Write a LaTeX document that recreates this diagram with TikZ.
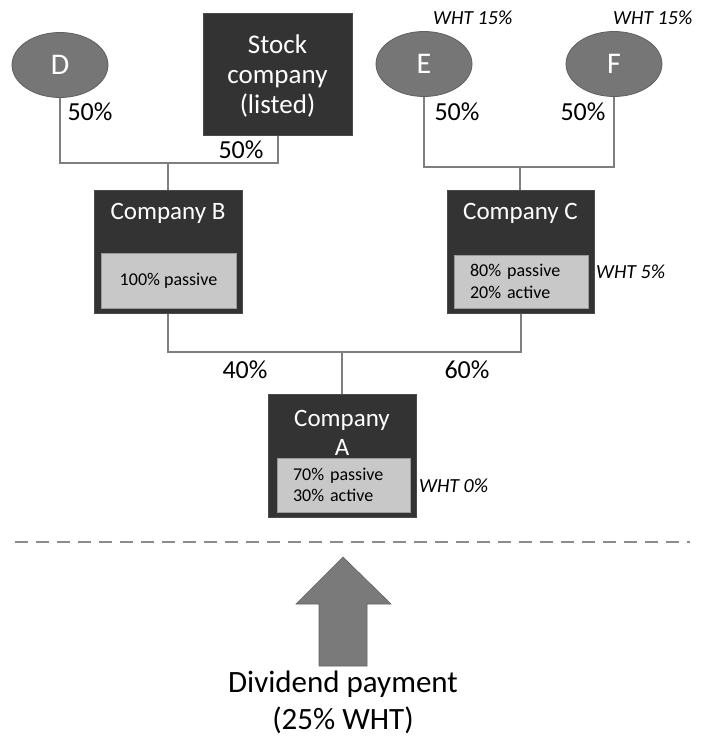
\documentclass[tikz,border=0pt]{standalone}
\usepackage{fontspec}
\setmainfont{Carlito}
\usetikzlibrary{shapes.geometric}
\definecolor{boxdark}{HTML}{333333}
\definecolor{boxedge}{HTML}{4A4A4A}
\definecolor{innergray}{HTML}{C8C8C8}
\definecolor{inneredge}{HTML}{9A9A9A}
\definecolor{ellgray}{HTML}{767676}
\definecolor{elledge}{HTML}{606060}
\definecolor{linegray}{HTML}{7F7F7F}
\definecolor{arrowgray}{HTML}{7A7A7A}
\begin{document}
\begin{tikzpicture}[x=1pt,y=-1pt,
  darkbox/.style={rectangle, fill=boxdark, draw=boxedge, line width=1pt, inner sep=0pt},
  innerbox/.style={rectangle, fill=innergray, draw=inneredge, line width=1pt, inner sep=0pt, align=left, font=\fontsize{18}{21.5}\selectfont},
  boxtitle/.style={text=white, align=center, font=\fontsize{25}{29}\selectfont, inner sep=0pt},
  ell/.style={ellipse, fill=ellgray, draw=elledge, line width=0.8pt, minimum width=96pt, minimum height=65pt, inner sep=0pt, text=white, font=\fontsize{30}{32}\selectfont},
  conn/.style={draw=linegray, line width=2pt},
  pct/.style={font=\fontsize{26}{28}\selectfont, inner sep=0pt},
  wht/.style={font=\itshape\fontsize{20}{22}\selectfont, inner sep=0pt}
]
\useasboundingbox[fill=white] (0,0) rectangle (705,741);

% owners
\node[ell] (D) at (60,65) {D};
\node[ell] (E) at (424,64) {E};
\node[ell] (F) at (614,64) {F};
\node[darkbox, minimum width=149pt, minimum height=121pt] (S) at (277.5,74.5) {};
\node[boxtitle, font=\fontsize{27}{30}\selectfont] (St) at (277.5,76) {Stock\\company\\(listed)};

\node[wht, anchor=west] (wE) at (433,18) {WHT 15\%};
\node[wht, anchor=west] (wF) at (613,18) {WHT 15\%};

% company B
\node[darkbox, minimum width=148pt, minimum height=123pt] (B) at (168,251.5) {};
\node[boxtitle] (Bt) at (168,213) {Company B};
\node[innerbox, minimum width=135pt, minimum height=55pt] (Bi) at (168.5,280.5) {100\% passive};

% company C
\node[darkbox, minimum width=147pt, minimum height=123pt] (C) at (520.5,251.5) {};
\node[boxtitle] (Ct) at (520.5,213) {Company C};
\node[innerbox, minimum width=134pt, minimum height=53pt, text width=102pt] (Ci) at (521,281.5) {80\% passive\\20\% active};
\node[wht, anchor=west] (wC) at (596,272) {WHT 5\%};

% company A
\node[darkbox, minimum width=148pt, minimum height=123pt] (A) at (342,455.5) {};
\node[boxtitle] (At) at (342,432.5) {Company\\A};
\node[innerbox, minimum width=133pt, minimum height=54pt, text width=101pt] (Ai) at (343.5,485) {70\% passive\\30\% active};
\node[wht, anchor=west] (wA) at (419,486) {WHT 0\%};

% junctions
\coordinate (j1) at (168,163);
\coordinate (j2) at (520,167);
\coordinate (j3) at (342,352);

% connectors
\draw[conn] (D.south) -- (D.south |- j1) -- (S.south |- j1) -- (S.south);
\draw[conn] (j1) -- (j1 |- B.north);
\draw[conn] (E.south) -- (E.south |- j2) -- (F.south |- j2) -- (F.south);
\draw[conn] (j2) -- (j2 |- C.north);
\draw[conn] (B.south) -- (B.south |- j3) -- (C.south |- j3) -- (C.south);
\draw[conn] (j3) -- (A.north);

% percentages
\node[pct] (p1) at (90,112) {50\%};
\node[pct] (p2) at (241,150) {50\%};
\node[pct] (p3) at (457,112) {50\%};
\node[pct] (p4) at (583,112) {50\%};
\node[pct] (p5) at (245,370) {40\%};
\node[pct] (p6) at (467,370) {60\%};

% dashed separator
\coordinate (dl) at (15,542);
\coordinate (dr) at (690,542);
\draw[draw=linegray!90, line width=2pt, dash pattern=on 13pt off 8pt] (dl) -- (dr);

% dividend arrow
\filldraw[fill=arrowgray, draw=arrowgray!80!black, line width=0.6pt]
  (343,557) -- (391,604) -- (367,604) -- (367,666) -- (319,666) -- (319,604) -- (296,604) -- cycle;
\node[align=center, font=\fontsize{31}{37}\selectfont] (div) at (343,702) {Dividend payment\\(25\% WHT)};
\end{tikzpicture}
\end{document}
